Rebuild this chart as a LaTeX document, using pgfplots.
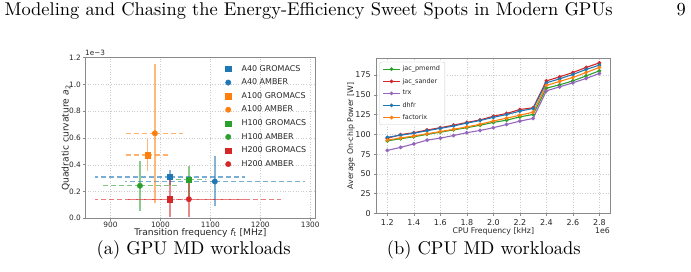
\documentclass[border=0pt]{standalone}
\usepackage{fontspec}
\setsansfont{DejaVu Sans}
\usepackage{graphicx}
\usepackage{pgfplots}
\usepackage{pgfplotstable}
\pgfplotsset{compat=1.18}

\definecolor{tabblue}{HTML}{1F77B4}
\definecolor{taborange}{HTML}{FF7F0E}
\definecolor{tabgreen}{HTML}{2CA02C}
\definecolor{tabred}{HTML}{D62728}
\definecolor{tabpurple}{HTML}{9467BD}
\definecolor{spine}{HTML}{8A8A8A}

\newcommand{\mplfont}[1]{\sffamily\fontsize{#1}{#1}\selectfont}

% Average on-chip power [W] versus CPU frequency (in units of 1e6 kHz)
\pgfplotstableread{
f    pmemd  sander  trx    dhfr   factorix
1.2  91.8   95.1    79.8   96.3   92.8
1.3  94.6   99.7    83.6   99.0   95.5
1.4  97.0   102.2   88.0   101.5  98.0
1.5  100.1  105.6   92.8   104.7  100.8
1.6  102.8  108.5   95.3   107.6  103.6
1.7  105.8  111.7   98.6   110.7  106.5
1.8  108.5  115.2   102.2  114.3  109.5
1.9  111.6  118.3   105.0  117.6  112.8
2.0  115.2  123.0   108.5  121.6  117.0
2.1  118.0  126.5   112.6  125.2  120.5
2.2  122.2  131.5   116.8  129.4  124.3
2.3  125.2  133.6   120.2  132.8  128.1
2.4  158.5  167.7   155.1  165.2  161.9
2.5  162.7  172.8   160.2  170.3  167.0
2.6  167.7  178.3   165.2  175.8  172.0
2.7  174.0  184.7   170.8  182.2  178.3
2.8  180.4  190.5   177.1  187.6  184.7
}\cpupower

\pgfplotsset{
  mplbase/.style={
    scale only axis,
    axis line style={spine, line width=0.8bp},
    grid=major,
    major grid style={draw=black!20, line width=0.5bp, dash pattern=on 1bp off 1.6bp},
    tick align=outside,
    tick pos=left,
    major tick length=2.5bp,
    tick style={spine, line width=0.6bp},
    scaled ticks=false,
    /pgf/number format/assume math mode=true,
    /pgf/number format/1000 sep={},
  },
  % frequency spread drawn as dashed horizontal error bars around the median
  hspread/.style={forget plot, draw=none, mark=none,
    error bars/.cd, x dir=both, x explicit, error mark=none,
    error bar style={draw=#1, line width=1.3bp, dash pattern=on 5bp off 3bp, draw opacity=0.6}},
  vspread/.style={forget plot, mark=none, draw=#1, color=#1, draw opacity=0.55,
    line width=1.4bp, solid},
  markimg/.style={legend image code/.code={\path[draw=none] (0cm,0cm) -- (0.58cm,0cm);
    \draw[##1] plot coordinates {(0.18cm,0cm)};}},
  sqmark/.style={only marks, mark=square*, mark size=2.6bp, color=#1,
    mark options={draw=#1, fill=#1, solid}, markimg},
  cimark/.style={only marks, mark=*, mark size=2.7bp, color=#1,
    mark options={draw=#1, fill=#1, solid}, markimg},
  cpuline/.style={color=#1, line width=1.1bp, mark=*, mark size=1.3bp,
    mark options={draw=#1, fill=#1}},
}

\begin{document}
\begin{tikzpicture}
\path[use as bounding box] (0,0) rectangle (691bp,272bp);

% running head
\node[anchor=base west, inner sep=0] at (4.4bp,256bp)
  {\scalebox{1.85}{Modeling and Chasing the Energy-Efficiency Sweet Spots in Modern GPUs}};
\node[anchor=base east, inner sep=0] at (686bp,256bp) {\scalebox{1.85}{9}};

% (a) transition frequency vs. quadratic curvature
\begin{axis}[mplbase,
  at={(85bp,53.7bp)}, anchor=south west,
  width=230.7bp, height=160.6bp,
  xmin=849, xmax=1311, ymin=0, ymax=1.2,
  xtick={900,1000,1100,1200,1300},
  ytick={0,0.2,0.4,0.6,0.8,1.0,1.2},
  tick label style={font=\mplfont{7.4}, text=black!85},
  xticklabel style={inner sep=1.5bp},
  yticklabel style={inner sep=1.5bp, /pgf/number format/fixed,
    /pgf/number format/fixed zerofill, /pgf/number format/precision=1},
  xlabel={Transition frequency {\itshape f}\textsubscript{t} [MHz]},
  ylabel={Quadratic curvature {\itshape a}\textsubscript{2}},
  label style={font=\mplfont{9.2}, text=black!85},
  xlabel style={at={(axis description cs:0.5,-0.09)}, anchor=center},
  ylabel style={at={(axis description cs:-0.082,0.5)}, anchor=center},
  legend style={draw=none, fill=none, at={(0.585,0.979)}, anchor=north west,
    font=\mplfont{8}, row sep=2.2bp, text=black!85},
  legend cell align=left,
  extra description/.code={\node[anchor=base west, font=\mplfont{7.3}, text=black!85, inner sep=0] at (0,1.012) {1e−3};},
]
% spread in curvature (solid, vertical)
\addplot[vspread=tabblue]   coordinates {(1019,0.25) (1019,0.364)};
\addplot[vspread=taborange] coordinates {(974,0.35) (974,0.59)};
\addplot[vspread=tabblue]   coordinates {(1109,0.093) (1109,0.464)};
\addplot[vspread=taborange] coordinates {(989,0.118) (989,1.155)};
\addplot[vspread=tabgreen]  coordinates {(1057,0.16) (1057,0.389)};
\addplot[vspread=tabred]    coordinates {(1019,0.012) (1019,0.30)};
\addplot[vspread=tabgreen]  coordinates {(959,0.057) (959,0.427)};
\addplot[vspread=tabred]    coordinates {(1057,0.012) (1057,0.30)};
% spread in transition frequency (dashed, horizontal): median += upper -= lower
\addplot[hspread=tabblue]   coordinates {(1019,0.309) += (150,0) -= (150,0)}; % A40 GROMACS
\addplot[hspread=tabblue]   coordinates {(1109,0.275) += (180,0) -= (180,0)}; % A40 AMBER
\addplot[hspread=taborange] coordinates {(974,0.472) += (45,0) -= (45,0)};    % A100 GROMACS
\addplot[hspread=taborange] coordinates {(989,0.635) += (56,0) -= (60,0)};    % A100 AMBER
\addplot[hspread=tabgreen]  coordinates {(1057,0.289) += (35,0) -= (32,0)};   % H100 GROMACS
\addplot[hspread=tabgreen]  coordinates {(959,0.243) += (74,0) -= (74,0)};    % H100 AMBER
\addplot[hspread=tabred]    coordinates {(1019,0.143) += (151,0) -= (150,0)}; % H200 GROMACS
\addplot[hspread=tabred]    coordinates {(1057,0.143) += (185,0) -= (122,0)}; % H200 AMBER
% medians
\addplot[sqmark=tabblue]   coordinates {(1019,0.309)};
\addplot[cimark=tabblue]   coordinates {(1109,0.275)};
\addplot[sqmark=taborange] coordinates {(974,0.472)};
\addplot[cimark=taborange] coordinates {(989,0.635)};
\addplot[sqmark=tabgreen]  coordinates {(1057,0.289)};
\addplot[cimark=tabgreen]  coordinates {(959,0.243)};
\addplot[sqmark=tabred]    coordinates {(1019,0.143)};
\addplot[cimark=tabred]    coordinates {(1057,0.143)};
\legend{A40 GROMACS, A40 AMBER, A100 GROMACS, A100 AMBER,
        H100 GROMACS, H100 AMBER, H200 GROMACS, H200 AMBER}
\end{axis}

% (b) CPU power vs. frequency
\begin{axis}[mplbase,
  at={(376.7bp,58.5bp)}, anchor=south west,
  width=233.3bp, height=155bp,
  xmin=1.12, xmax=2.88, ymin=0, ymax=196,
  xtick={1.2,1.4,1.6,1.8,2.0,2.2,2.4,2.6,2.8},
  ytick={0,25,50,75,100,125,150,175},
  tick label style={font=\mplfont{8}, text=black!85},
  xticklabel style={/pgf/number format/fixed,
    /pgf/number format/fixed zerofill, /pgf/number format/precision=1},
  xlabel={CPU Frequency [kHz]},
  ylabel={Average On-chip Power [W]},
  label style={font=\mplfont{7.8}, text=black!85},
  xlabel style={at={(axis description cs:0.5,-0.113)}, anchor=center},
  ylabel style={at={(axis description cs:-0.110,0.5)}, anchor=center},
  legend style={draw=black!20, fill=white, rounded corners=2bp,
    at={(0.011,0.979)}, anchor=north west,
    font=\mplfont{6.5}, row sep=1.8bp, text=black!85},
  legend cell align=left,
  extra description/.code={\node[anchor=east, font=\mplfont{7.8}, text=black!85, inner sep=0] at (1,-0.111) {1e6};},
]
\addplot[cpuline=tabgreen]  table[x=f, y=pmemd]    {\cpupower};
\addplot[cpuline=tabred]    table[x=f, y=sander]   {\cpupower};
\addplot[cpuline=tabpurple] table[x=f, y=trx]      {\cpupower};
\addplot[cpuline=tabblue]   table[x=f, y=dhfr]     {\cpupower};
\addplot[cpuline=taborange] table[x=f, y=factorix] {\cpupower};
\legend{jac\_pmemd, jac\_sander, trx, dhfr, factorix}
\end{axis}

% subfigure captions
\node[anchor=base, inner sep=0] at (193.6bp,18bp) {\scalebox{1.85}{(a) GPU MD workloads}};
\node[anchor=base, inner sep=0] at (483.8bp,18bp) {\scalebox{1.85}{(b) CPU MD workloads}};
\end{tikzpicture}
\end{document}
